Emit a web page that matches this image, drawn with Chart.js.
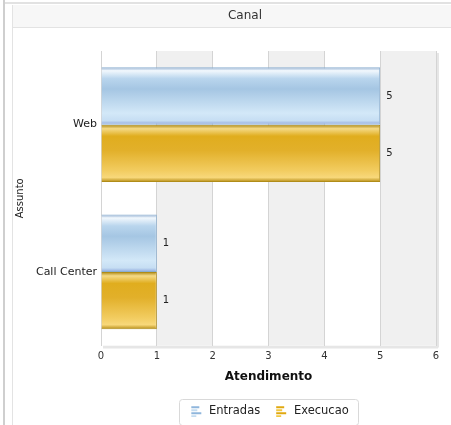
<!DOCTYPE html>
<html lang="pt">
<head>
<meta charset="UTF-8" />
<script src="https://cdn.jsdelivr.net/npm/chart.js@4.4.1/dist/chart.umd.min.js"></script>
<title>Canal</title>
<style>
  body { margin: 0; padding: 0; background: #fff; }
  .wrap { width: 451px; height: 425px; position: relative; }
</style>
</head>
<body>
<div class="wrap"><canvas id="chart" width="451" height="425"></canvas></div>
<script>
const categories = ['Web', 'Call Center']
const entradas = [5, 1]
const execucao = [5, 1]
const xTicks = [0, 1, 2, 3, 4, 5, 6]

const FONT = 'DejaVu Sans'
const CAT_PCT = 0.78

// glossy vertical gradient for one bar
function barGradient(c, stops) {
  const chart = c.chart
  const y = chart.scales.y
  if (!y || !y.height) return stops[3][1]
  const cat = y.height / categories.length
  const thick = cat * CAT_PCT / 2
  const center = y.getPixelForValue(c.dataIndex)
  const top = center - thick + c.datasetIndex * thick
  const g = chart.ctx.createLinearGradient(0, top, 0, top + thick)
  stops.forEach(s => g.addColorStop(s[0], s[1]))
  return g
}
const blueStops = [[0, '#86a6cc'], [0.06, '#f2f8fd'], [0.2, '#b9d5ed'], [0.38, '#a5c6e3'], [0.8, '#d3e8f8'], [0.93, '#c6def3'], [1, '#8fa8dc']]
const goldStops = [[0, '#a88410'], [0.07, '#f5da86'], [0.2, '#e0ad1e'], [0.45, '#e2b02a'], [0.8, '#f2cc60'], [0.92, '#f8d87a'], [1, '#b48a12']]

function legendIcon(col1, col2) {
  const cv = document.createElement('canvas')
  cv.width = 12; cv.height = 12
  const x = cv.getContext('2d')
  const lens = [8, 6, 10, 5]
  lens.forEach((l, i) => {
    x.fillStyle = i % 2 ? col2 : col1
    x.fillRect(1, 1 + i * 3, l, 2)
  })
  return cv
}

const decor = {
  id: 'decor',
  afterLayout(chart) {
    // centre title and legend on the frame / plot like the original
    const tb = chart.titleBlock
    if (tb) { tb.left += 27; tb.right += 27 }
    const lg = chart.legend
    if (lg) { lg.left += 51; lg.right += 51; lg.top += 4; lg.bottom += 4 }
  },
  beforeDraw(chart) {
    const ctx = chart.ctx
    const a = chart.chartArea
    ctx.save()
    // frame
    ctx.fillStyle = '#cfcfcf'
    ctx.fillRect(3, 0, 2, 425)
    ctx.fillStyle = '#e2e2e2'
    ctx.fillRect(5, 2, 446, 2)
    // title band
    ctx.fillStyle = '#f7f7f7'
    ctx.fillRect(13, 5, 438, 22)
    ctx.strokeStyle = '#e3e3e3'
    ctx.lineWidth = 1
    ctx.beginPath()
    ctx.moveTo(13, 27.5); ctx.lineTo(451, 27.5)
    ctx.moveTo(12.5, 5); ctx.lineTo(12.5, 425)
    ctx.stroke()
    // plot shadow
    ctx.fillStyle = '#e6e6e6'
    ctx.fillRect(a.left + 2, a.bottom, a.width, 3)
    ctx.fillRect(a.right, a.top + 2, 3, a.height)
    // alternating bands
    const xs = chart.scales.x
    ctx.fillStyle = '#ffffff'
    ctx.fillRect(a.left, a.top, a.width, a.height)
    for (let i = 1; i < xTicks.length - 1; i += 2) {
      const l = xs.getPixelForValue(xTicks[i])
      const r = xs.getPixelForValue(xTicks[i + 1])
      ctx.fillStyle = '#f0f0f0'
      ctx.fillRect(l, a.top, r - l, a.height)
    }
    ctx.restore()
  },
  afterDatasetsDraw(chart) {
    const ctx = chart.ctx
    ctx.save()
    ctx.font = '10px ' + FONT
    ctx.fillStyle = '#222'
    ctx.textBaseline = 'middle'
    chart.data.datasets.forEach((ds, di) => {
      chart.getDatasetMeta(di).data.forEach((el, i) => {
        ctx.fillText(String(ds.data[i]), el.x + 6, el.y)
      })
    })
    ctx.restore()
  },
  afterDraw(chart) {
    const boxes = chart.legend && chart.legend.legendHitBoxes
    if (!boxes || !boxes.length) return
    const ctx = chart.ctx
    const l = Math.min(...boxes.map(b => b.left)) - 10
    const r = Math.max(...boxes.map(b => b.left + b.width)) + 10
    const t = Math.min(...boxes.map(b => b.top)) - 7
    const bt = Math.max(...boxes.map(b => b.top + b.height)) + 7
    ctx.save()
    ctx.strokeStyle = '#d9d9d9'
    ctx.lineWidth = 1
    ctx.beginPath()
    ctx.roundRect(Math.round(l) + 0.5, Math.round(t) + 0.5, Math.round(r - l), Math.round(bt - t), 3)
    ctx.stroke()
    ctx.restore()
  }
}

new Chart(document.getElementById('chart'), {
  type: 'bar',
  data: {
    labels: categories,
    datasets: [
      {
        label: 'Entradas',
        data: entradas,
        backgroundColor: c => barGradient(c, blueStops),
        borderColor: '#8aaed0',
        borderWidth: 1,
        pointStyle: legendIcon('#8fb6dc', '#c4dcf0'),
      },
      {
        label: 'Execucao',
        data: execucao,
        backgroundColor: c => barGradient(c, goldStops),
        borderColor: '#b08c18',
        borderWidth: 1,
        pointStyle: legendIcon('#e0a810', '#f2c840'),
      },
    ],
  },
  options: {
    indexAxis: 'y',
    responsive: false,
    animation: false,
    devicePixelRatio: 1,
    categoryPercentage: CAT_PCT,
    barPercentage: 1,
    layout: { padding: { left: 0, right: 15, top: 0, bottom: 2 } },
    plugins: {
      title: {
        display: true,
        text: 'Canal',
        color: '#333',
        font: { family: FONT, size: 12, weight: 'normal' },
        padding: { top: 9, bottom: 27.6 },
      },
      legend: {
        position: 'bottom',
        labels: {
          usePointStyle: true,
          pointStyleWidth: 14,
          color: '#222',
          font: { family: FONT, size: 11.5 },
          boxWidth: 14,
          boxHeight: 12,
          padding: 14,
        },
      },
      tooltip: { enabled: false },
    },
    scales: {
      x: {
        min: 0,
        max: 6,
        afterFit: s => { s.height = 42 },
        afterBuildTicks: s => { s.ticks = xTicks.map(v => ({ value: v })) },
        grid: { color: '#d4d4d4', drawTicks: false },
        border: { display: false },
        ticks: { color: '#333', font: { family: FONT, size: 10 }, padding: 5 },
        title: {
          display: true,
          text: 'Atendimento',
          color: '#111',
          font: { family: FONT, size: 12, weight: 'bold' },
          padding: { top: 4, bottom: 3 },
        },
      },
      y: {
        afterFit: s => { s.width = 101 },
        grid: { display: false, drawTicks: false },
        border: { display: false },
        ticks: { color: '#222', font: { family: FONT, size: 11 }, padding: 4 },
        title: {
          display: true,
          text: 'Assunto',
          color: '#222',
          font: { family: FONT, size: 10 },
          padding: { top: 14, bottom: 0 },
        },
      },
    },
  },
  plugins: [decor],
})
</script>
</body>
</html>
